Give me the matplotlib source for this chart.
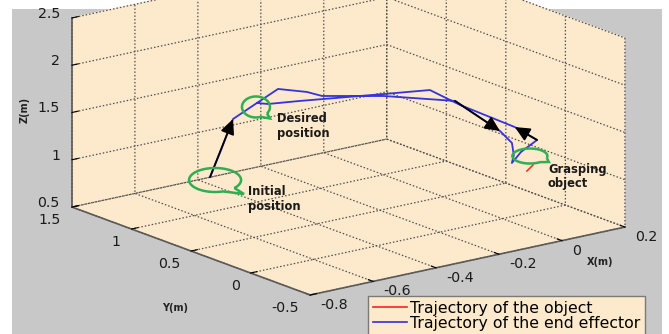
import numpy as np
import matplotlib
matplotlib.use('Agg')
import matplotlib.pyplot as plt
from matplotlib.patches import Rectangle, PathPatch
from matplotlib.path import Path
from matplotlib.lines import Line2D
from matplotlib.transforms import IdentityTransform
from mpl_toolkits.mplot3d import proj3d

# ---------------- data ----------------
ee_x = [-0.664, -0.629, -0.591, -0.515, -0.467, -0.394, -0.365, -0.206, -0.037, 0.049, 0.068, 0.055, 0.030,
        0.059, 0.110, 0.077, -0.040, -0.098, -0.206, -0.416, -0.480, -0.515]
ee_y = [0.70, 0.70, 0.70, 0.70, 0.65, 0.60, 0.55, 0.45, 0.30, 0.15, 0.10, 0.05, 0.00,
        0.00, 0.00, 0.10, 0.25, 0.35, 0.45, 0.60, 0.70, 0.70]
ee_z = [1.092, 1.353, 1.653, 1.768, 1.905, 1.844, 1.804, 1.736, 1.632, 1.322, 1.205, 1.110, 1.067,
        1.163, 1.253, 1.367, 1.615, 1.768, 1.757, 1.765, 1.732, 1.768]
obj_x = [0.059, 0.078]
obj_y = [-0.05, -0.05]
obj_z = [0.985, 1.034]

x_ticks = [-0.8, -0.6, -0.4, -0.2, 0.0, 0.2]
y_ticks = [-0.5, 0.0, 0.5, 1.0, 1.5]
z_ticks = [0.5, 1.0, 1.5, 2.0, 2.5]
x_tick_labels = ['-0.8', '-0.6', '-0.4', '-0.2', '0', '0.2']
y_tick_labels = ['-0.5', '0', '0.5', '1', '1.5']
z_tick_labels = ['0.5', '1', '1.5', '2', '2.5']
legend_labels = ['Trajectory of the object', 'Trajectory of the end effector']
callout_texts = ['Initial\nposition', 'Desired\nposition', 'Grasping\nobject']
callout_idx = [0, 3, 12]
arrow_pairs = [(0, 2), (8, 9), (14, 15)]

# ---------------- figure ----------------
W, H = 669, 334
plt.rcParams['font.family'] = ['DejaVu Sans']
plt.rcParams['grid.linestyle'] = (0, (1.2, 1.6))
plt.rcParams['grid.color'] = '#505050'
plt.rcParams['grid.linewidth'] = 0.9

fig = plt.figure(figsize=(W / 100, H / 100), dpi=100, facecolor='white')
fig.add_artist(Rectangle((12 / W, 0), (662 - 12) / W, (H - 9) / H, transform=fig.transFigure,
                         facecolor='#c8c8c8', edgecolor='none', zorder=-10))

S0 = 300.0
ax = fig.add_axes([0, 0, S0 / W, S0 / H], projection='3d')
ax.set_proj_type('ortho')
ax.set_box_aspect((396, 392, 197))
ax.view_init(elev=16.4, azim=232.6)
ax.set_facecolor((0, 0, 0, 0))

pane = (0.992, 0.914, 0.800, 1.0)
for a in (ax.xaxis, ax.yaxis, ax.zaxis):
    a.set_pane_color(pane)
    a.line.set_color('#5a5a5a')
    a.line.set_linewidth(1.2)
    a._axinfo['tick']['inward_factor'] = 0.0
    a._axinfo['tick']['outward_factor'] = 0.25
    a._axinfo['tick']['color'] = '#5a5a5a'
    a._axinfo['tick']['linewidth'] = {True: 0.8, False: 0.5}

ax.plot(obj_x, obj_y, obj_z, color='#f03a20', lw=1.2)
ax.plot(ee_x, ee_y, ee_z, color='#3434dc', lw=1.3)

ax.set_xlim(-0.8, 0.2)
ax.set_ylim(-0.5, 1.5)
ax.set_zlim(0.5, 2.5)
ax.set_xticks(x_ticks)
ax.set_xticklabels([''] * len(x_ticks))
ax.set_yticks(y_ticks)
ax.set_yticklabels([''] * len(y_ticks))
ax.set_zticks(z_ticks)
ax.set_zticklabels([''] * len(z_ticks))

fig.canvas.draw()


def project(xs, ys, zs):
    X, Y, _ = proj3d.proj_transform(np.asarray(xs, float), np.asarray(ys, float),
                                    np.asarray(zs, float), ax.get_proj())
    return np.column_stack([X, Y])


# fit box corners to the reference layout
cx = [-0.8, 0.2, -0.8, -0.8, 0.2]
cy = [1.5, -0.5, -0.5, 1.5, -0.5]
cz = [0.5, 0.5, 0.5, 2.5, 2.5]
targets = np.array([[72, H - 207], [625, H - 227], [310, H - 295], [72, H - 18], [625, H - 38]], float)
P = ax.transData.transform(project(cx, cy, cz))
pm, tm = P.mean(0), targets.mean(0)
s = ((P - pm) * (targets - tm)).sum() / ((P - pm) ** 2).sum()
o = tm - s * pm
ax.set_position([o[0] / W, o[1] / H, s * S0 / W, s * S0 / H])
fig.canvas.draw()

# tick labels, placed beside the ticks of each axis edge (MATLAB style)
tick_font = dict(fontsize=10.2, color='#1a1a1a', va='center')
xl, xh = ax.get_xlim()
yl, yh = ax.get_ylim()
zl, zh = ax.get_zlim()
n = len(x_ticks)
p = project(x_ticks, [yl] * n, [zl] * n)
for lab, q in zip(x_tick_labels, p):
    ax.annotate(lab, xy=q, xycoords='data', xytext=(10, -10), textcoords='offset pixels',
                ha='left', **tick_font)
n = len(y_ticks)
p = project([xl] * n, y_ticks, [zl] * n)
for lab, q in zip(y_tick_labels, p):
    ax.annotate(lab, xy=q, xycoords='data', xytext=(-11, -12.5), textcoords='offset pixels',
                ha='right', **tick_font)
n = len(z_ticks)
p = project([xl] * n, [yh] * n, z_ticks)
for lab, q in zip(z_tick_labels, p):
    ax.annotate(lab, xy=q, xycoords='data', xytext=(-12, 4), textcoords='offset pixels',
                ha='right', **tick_font)

# axis labels
lab = dict(fontsize=7, fontweight='bold', color='#222222')
fig.text(25 / W, 1 - 110 / H, 'Z(m)', rotation=90, ha='center', va='center', **lab)
fig.text(175 / W, 1 - 308 / H, 'Y(m)', ha='center', va='center', **lab)
fig.text(600 / W, 1 - 262 / H, 'X(m)', ha='center', va='center', **lab)

# arrows along the trajectory
pts2d = project(ee_x, ee_y, ee_z)
for i0, i1 in arrow_pairs:
    ax.annotate('', xy=pts2d[i1], xytext=pts2d[i0], xycoords='data', textcoords='data',
                arrowprops=dict(arrowstyle='-|>,head_length=0.9,head_width=0.42', color='black',
                                lw=1.3, shrinkA=0, shrinkB=0, mutation_scale=10))

# callout bubbles
green = '#2fae52'
bubble_specs = [  # center offset, a, b, gap angles, tip offset
    ((5, -3), 26, 12, (-72, -42), (29, -14)),
    ((-1, -4), 14, 10.5, (-70, -38), (14, -11.5)),
    ((18, 7), 17.5, 7.5, (-55, -15), (19, -6)),
]
text_offsets = [(38, -22), (20, -23), (36, -13.5)]
disp_pts = ax.transData.transform(pts2d)
for k, idx in enumerate(callout_idx):
    px, py = disp_pts[idx]
    (dx, dy), a_, b_, (t1, t2), (tx, ty) = bubble_specs[k]
    ccx, ccy = px + dx, py + dy
    ts = np.radians(np.linspace(t2, t1 + 360, 90))
    verts = [(ccx + a_ * np.cos(t), ccy + b_ * np.sin(t)) for t in ts]
    verts.append((ccx + tx, ccy + ty))
    verts.append(verts[0])
    fig.add_artist(PathPatch(Path(verts), transform=IdentityTransform(), facecolor='none',
                             edgecolor=green, lw=1.8, zorder=5))
    ax.annotate(callout_texts[k], xy=pts2d[idx], xycoords='data', xytext=text_offsets[k],
                textcoords='offset pixels', ha='left', va='center', fontsize=8.3,
                fontweight='bold', color='#1a1a1a', linespacing=1.15)

# legend
handles = [Line2D([], [], color='#ff2020', lw=1.2), Line2D([], [], color='#3030e0', lw=1.2)]
leg = fig.legend(handles, legend_labels, loc='upper left', bbox_to_anchor=(368 / W, (H - 296) / H),
                 bbox_transform=fig.transFigure, borderaxespad=0, frameon=True, fancybox=False,
                 facecolor='#fde9cc', edgecolor='#7a7a7a', framealpha=1, fontsize=11.3,
                 labelspacing=0.0, handlelength=2.2, handletextpad=0.2, borderpad=0.3)
leg.get_frame().set_linewidth(1.0)
leg.set_zorder(10)

fig.savefig('out.png', dpi=100, facecolor='white')
